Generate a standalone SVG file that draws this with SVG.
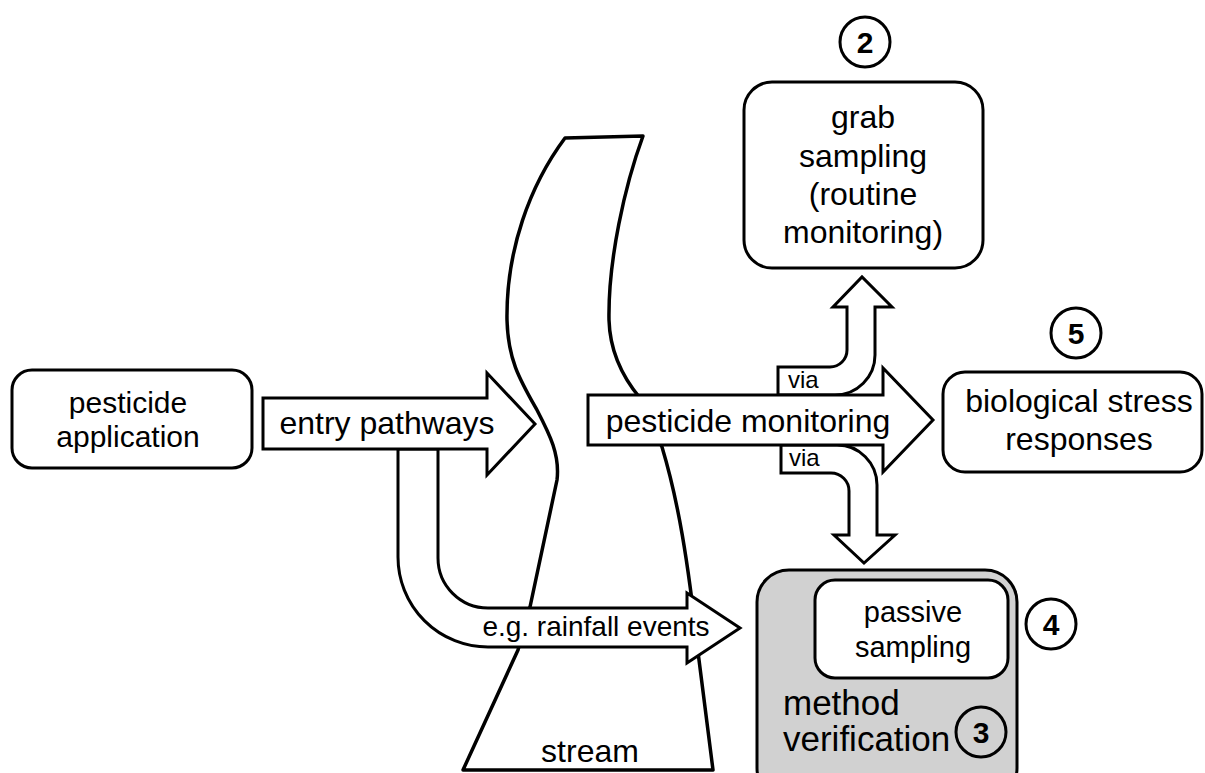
<svg xmlns="http://www.w3.org/2000/svg" width="1205" height="773" viewBox="0 0 1205 773">
  <style>
    .box { fill: #ffffff; stroke: #000000; stroke-width: 3; }
    .grey { fill: #d1d1d1; stroke: #000000; stroke-width: 3; }
    .flow { fill: #ffffff; stroke: #000000; stroke-width: 3; stroke-linejoin: miter; }
    .stream { fill: #ffffff; stroke: #000000; stroke-width: 3.5; stroke-linejoin: round; }
    .ring { fill: none; stroke: #000000; stroke-width: 3; }
    text { font-family: "Liberation Sans", Arial, sans-serif; fill: #000000; }
    .c { text-anchor: middle; }
    .num { font-weight: bold; font-size: 30px; text-anchor: middle; }
  </style>

  <!-- the stream channel -->
  <g id="stream">
    <path class="stream" d="M565,138 L643,136 C625,185 608,260 609,320 C610,355 625,380 640,398 L662,447 C678,500 688,560 698,652 L713,770 L463,770 L518,650 L530,607 L557,480 C560,455 550,435 537,410 C520,380 508,360 507,320 C506,250 530,185 565,138 Z"/>
    <text class="c" x="590" y="762" font-size="32">stream</text>
  </g>

  <!-- block arrows -->
  <g id="connectors">
    <g id="rainfall-arrow">
      <path class="flow" d="M398,449 L438,449 L438,558 A50,50 0 0 0 488,608 L687,608 L687,593 L740,628 L687,663 L687,647 L488,647 A90,90 0 0 1 398,557 Z"/>
      <text class="c" x="596" y="636" font-size="28">e.g. rainfall events</text>
    </g>
    <g id="entry-arrow">
      <path class="flow" d="M263,398 L487,398 L487,373 L535,424 L487,475 L487,449 L263,449 Z"/>
      <text class="c" x="387" y="434" font-size="32">entry pathways</text>
    </g>
    <g id="via-up">
      <path class="flow" d="M778,395 L778,367 L830,367 A17,17 0 0 0 847,350 L847,307 L833,307 L862,277 L892,307 L875,307 L875,355 A40,40 0 0 1 835,395 Z"/>
      <text x="788" y="388" font-size="24">via</text>
    </g>
    <g id="via-down">
      <path class="flow" d="M781,445 L781,473 L831,473 A18,18 0 0 1 849,491 L849,535 L834,535 L864,563 L895,535 L877,535 L877,485 A40,40 0 0 0 837,445 Z"/>
      <text x="789" y="466" font-size="24">via</text>
    </g>
    <g id="monitoring-arrow">
      <path class="flow" d="M588,395 L883,395 L883,368 L933,420 L883,472 L883,445 L588,445 Z"/>
      <text class="c" x="748" y="432" font-size="32">pesticide monitoring</text>
    </g>
  </g>

  <!-- nodes -->
  <g id="pesticide-application">
    <rect class="box" x="12" y="370" width="240" height="98" rx="20"/>
    <text class="c" x="128" y="413" font-size="30">pesticide</text>
    <text class="c" x="128" y="447" font-size="30">application</text>
  </g>

  <g id="grab-sampling">
    <rect class="box" x="744" y="82" width="239" height="186" rx="28"/>
    <text class="c" x="863" y="128" font-size="32">grab</text>
    <text class="c" x="863" y="167" font-size="32">sampling</text>
    <text class="c" x="863" y="205" font-size="32">(routine</text>
    <text class="c" x="863" y="243" font-size="32">monitoring)</text>
  </g>
  <g id="marker-2">
    <circle class="ring" cx="865" cy="42" r="25"/>
    <text class="num" x="865" y="53">2</text>
  </g>

  <g id="biological-stress">
    <rect class="box" x="943" y="372" width="259" height="100" rx="22"/>
    <text class="c" x="1079" y="412" font-size="32">biological stress</text>
    <text class="c" x="1079" y="450" font-size="32">responses</text>
  </g>
  <g id="marker-5">
    <circle class="ring" cx="1076" cy="333" r="25"/>
    <text class="num" x="1076" y="344">5</text>
  </g>

  <g id="method-verification">
    <rect class="grey" x="757" y="570" width="260" height="230" rx="32"/>
    <text x="783" y="715" font-size="35">method</text>
    <text x="783" y="751" font-size="35">verification</text>
    <circle class="ring" cx="981" cy="732" r="25"/>
    <text class="num" x="981" y="743">3</text>
  </g>

  <g id="passive-sampling">
    <rect class="box" x="815" y="580" width="193" height="98" rx="20"/>
    <text class="c" x="913" y="622" font-size="29">passive</text>
    <text class="c" x="913" y="657" font-size="29">sampling</text>
  </g>
  <g id="marker-4">
    <circle class="ring" cx="1051" cy="624" r="25"/>
    <text class="num" x="1051" y="635">4</text>
  </g>
</svg>
